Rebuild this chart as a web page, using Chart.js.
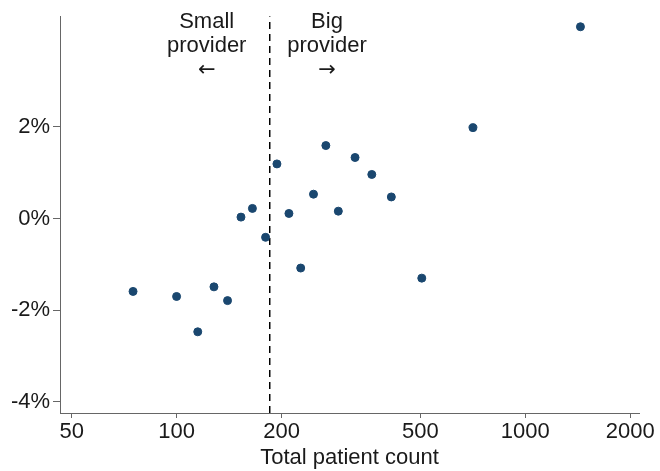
<!DOCTYPE html>
<html lang="en">
<head>
    <meta charset="UTF-8">
    <title>Provider size scatter</title>
    <script src="https://cdn.jsdelivr.net/npm/chart.js"></script>
    <style>
        body {
            margin: 0;
            background: #fff;
        }
    </style>
</head>
<body>
    <canvas id="chartCanvas" width="660" height="471"></canvas>

    <script>
        // data
        var patientCount = [75, 100, 115, 128, 140, 153, 165, 180, 194, 210, 227, 247, 268, 291, 325, 363, 413, 505, 708, 1440];
        var effectPct = [-1.59, -1.70, -2.47, -1.49, -1.79, 0.03, 0.22, -0.41, 1.19, 0.11, -1.08, 0.53, 1.59, 0.16, 1.33, 0.96, 0.47, -1.30, 1.98, 4.18];
        var xTicks = [50, 100, 200, 500, 1000, 2000];
        var yTicks = [-4, -2, 0, 2];
        var cutoff = 185;
        var xMin = 46.3, xMax = 2120;
        var yMin = -4.24, yMax = 4.41;
        var leftLabel = ['Small', 'provider', '\u2190'];
        var rightLabel = ['Big', 'provider', '\u2192'];
        var leftLabelX = 122, rightLabelX = 270;

        var points = patientCount.map(function(c, i) {
            return { x: c, y: effectPct[i] };
        });

        var axisColor = '#666';
        var textColor = '#1a1a1a';
        var fontFamily = '"Liberation Sans", Arial, sans-serif';

        // side labels above the cutoff line
        var sideLabels = {
            id: 'sideLabels',
            afterDraw: function(chart) {
                var ctx = chart.ctx;
                var xs = chart.scales.x;
                var top = chart.chartArea.top;
                ctx.save();
                ctx.fillStyle = textColor;
                ctx.textAlign = 'center';
                ctx.textBaseline = 'middle';
                [[leftLabel, leftLabelX], [rightLabel, rightLabelX]].forEach(function(pair) {
                    var px = xs.getPixelForValue(pair[1]);
                    pair[0].forEach(function(line, i) {
                        // arrows look closer with DejaVu glyphs
                        ctx.font = i === 2 ? '21px "DejaVu Sans", sans-serif' : '22px ' + fontFamily;
                        ctx.fillText(line, px, top + 6 + i * 24);
                    });
                });
                ctx.restore();
            }
        };

        var ctx = document.getElementById('chartCanvas').getContext('2d');
        var myChart = new Chart(ctx, {
            type: 'scatter',
            data: {
                datasets: [{
                    data: points,
                    backgroundColor: '#1a476f',
                    borderColor: '#1a476f',
                    borderWidth: 1,
                    pointRadius: 4,
                    order: 1
                }, {
                    type: 'line',
                    data: [{ x: cutoff, y: yMin }, { x: cutoff, y: yMax }],
                    borderColor: '#000',
                    borderWidth: 1.5,
                    borderDash: [7, 5],
                    pointRadius: 0,
                    fill: false,
                    order: 2
                }]
            },
            options: {
                responsive: false,
                animation: false,
                layout: { padding: { top: 14, right: 21, left: 0, bottom: 0 } },
                plugins: {
                    legend: { display: false },
                    tooltip: { enabled: false }
                },
                scales: {
                    x: {
                        type: 'logarithmic',
                        min: xMin,
                        max: xMax,
                        afterBuildTicks: function(s) {
                            s.ticks = xTicks.map(function(v) { return { value: v }; });
                        },
                        afterFit: function(s) { s.height = 58; },
                        ticks: {
                            autoSkip: false,
                            maxRotation: 0,
                            padding: 1,
                            color: textColor,
                            font: { size: 22, family: fontFamily },
                            callback: function(v) { return String(v); }
                        },
                        grid: { drawOnChartArea: false, drawTicks: true, tickLength: 5, color: axisColor },
                        border: { display: true, color: axisColor, width: 1 },
                        title: {
                            display: true,
                            text: 'Total patient count',
                            color: textColor,
                            font: { size: 22, family: fontFamily },
                            padding: { top: 0, bottom: 0 }
                        }
                    },
                    y: {
                        min: yMin,
                        max: yMax,
                        afterBuildTicks: function(s) {
                            s.ticks = yTicks.map(function(v) { return { value: v }; });
                        },
                        afterFit: function(s) { s.width = 60; },
                        ticks: {
                            padding: 3,
                            color: textColor,
                            font: { size: 22, family: fontFamily },
                            callback: function(v) { return v + '%'; }
                        },
                        grid: { drawOnChartArea: false, drawTicks: true, tickLength: 7, color: axisColor },
                        border: { display: true, color: axisColor, width: 1 }
                    }
                }
            },
            plugins: [sideLabels]
        });
    </script>
</body>
</html>
